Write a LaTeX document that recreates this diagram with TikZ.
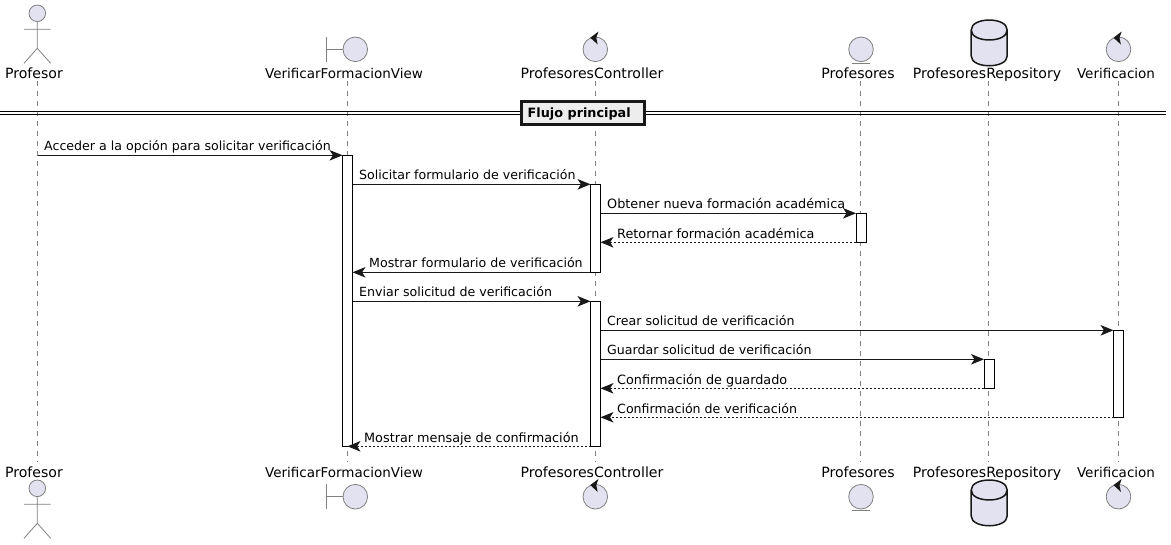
\documentclass[tikz,border=0pt]{standalone}
\usepackage{fontspec}
\setmainfont{DejaVu Sans}
\usetikzlibrary{arrows.meta,positioning,calc}
\definecolor{partfill}{HTML}{E2E2F0}
\definecolor{partline}{HTML}{181818}
\newcommand{\msgfont}{\fontsize{12.6}{15}\selectfont}
\newcommand{\msgwidefont}{\fontsize{12.8}{15}\selectfont}
\newcommand{\partfont}{\fontsize{14.1}{16}\selectfont}
\newcommand{\partsmall}{\fontsize{13.5}{16}\selectfont}
\newcommand{\ctrlarrow}[1]{\fill[partline] ($(#1)+(-5,-11.6)$) -- ($(#1)+(3.2,-17.8)$) -- ($(#1)+(1,-11.6)$) -- ($(#1)+(2.4,-4.8)$) -- cycle;}
\newcommand{\dbdraw}[2]{\draw[fill=partfill, draw=partline, line width=1.5pt] (#1-18,#2+10) -- (#1-18,#2+36) .. controls (#1-18,#2+49) and (#1+18,#2+49) .. (#1+18,#2+36) -- (#1+18,#2+10) .. controls (#1+18,#2-3.3) and (#1-18,#2-3.3) .. (#1-18,#2+10) .. controls (#1-18,#2+23.3) and (#1+18,#2+23.3) .. (#1+18,#2+10);}
\begin{document}
\begin{tikzpicture}[x=1pt,y=-1pt,>=Stealth,
     partname/.style={inner sep=0pt, anchor=base, text=black, font=\partfont},
     msgname/.style={inner sep=0pt, anchor=base west, text=black, font=\msgfont},
     msgwide/.style={msgname, font=\msgwidefont},
     icon/.style={draw=gray, fill=partfill, circle, inner sep=0pt, minimum size=24.6pt, line width=.8pt},
     lifeline/.style={draw=gray, line width=.8pt, dash pattern=on 5pt off 5pt},
     bar/.style={draw=black, fill=white, rectangle, inner sep=0pt, outer sep=0pt, minimum width=10pt, line width=.9pt},
     msg/.style={draw=partline, line width=.9pt, -{Stealth[length=13pt,width=10.5pt,inset=3.5pt]}},
     ret/.style={msg, dash pattern=on 2pt off 2pt}]
    \useasboundingbox (0,0) rectangle (1171,544);
    % participant names
    \node[partname] (tProfesor) at (34,78) {Profesor};
    \node[partname, font=\partsmall] (tVista) at (344,78) {VerificarFormacionView};
    \node[partname] (tCtrl) at (592,78) {ProfesoresController};
    \node[partname] (tEnt) at (858,78) {Profesores};
    \node[partname] (tRepo) at (987,78) {ProfesoresRepository};
    \node[partname, font=\partsmall] (tVerif) at (1116,78) {Verificacion};
    \node[partname] (bProfesor) at (34,477) {Profesor};
    \node[partname, font=\partsmall] (bVista) at (344,477) {VerificarFormacionView};
    \node[partname] (bCtrl) at (592,477) {ProfesoresController};
    \node[partname] (bEnt) at (858,477) {Profesores};
    \node[partname] (bRepo) at (987,477) {ProfesoresRepository};
    \node[partname, font=\partsmall] (bVerif) at (1116,477) {Verificacion};
    % lifelines
    \coordinate (lProfesor) at (37.5,81);   \coordinate (mProfesor) at (37.5,462);
    \coordinate (lVista) at (347.5,81);     \coordinate (mVista) at (347.5,462);
    \coordinate (lCtrl) at (595.5,81);      \coordinate (mCtrl) at (595.5,462);
    \coordinate (lEnt) at (860.5,81);       \coordinate (mEnt) at (860.5,462);
    \coordinate (lRepo) at (988.5,81);      \coordinate (mRepo) at (988.5,462);
    \coordinate (lVerif) at (1118.5,81);    \coordinate (mVerif) at (1118.5,462);
    \draw[lifeline] (lProfesor) -- (mProfesor);
    \draw[lifeline] (lVista) -- (mVista);
    \draw[lifeline] (lCtrl) -- (mCtrl);
    \draw[lifeline] (lEnt) -- (mEnt);
    \draw[lifeline] (lRepo) -- (mRepo);
    \draw[lifeline] (lVerif) -- (mVerif);
    % actor, top and bottom
    \foreach \yy in {0,475}{
      \draw[icon, minimum size=0pt] (37.3,13.3+\yy) circle (8.3);
      \draw[gray, line width=.8pt] (37.3,21.6+\yy) -- (37.3,48.3+\yy) (24,29.3+\yy) -- (50.7,29.3+\yy) (24,63.3+\yy) -- (37.3,48.3+\yy) -- (50.7,63.3+\yy);
    }
    % icons
    \node[icon] (iVistaT) at (355.3,49.3) {};
    \node[icon] (iVistaB) at (355.3,496.7) {};
    \coordinate (sVistaT) at (326.3,37); \coordinate (eVistaT) at (326.3,61.7); \coordinate (cVistaT) at (326.3,49.3);
    \coordinate (sVistaB) at (326.3,484.4); \coordinate (eVistaB) at (326.3,509.1); \coordinate (cVistaB) at (326.3,496.7);
    \draw[gray, line width=.8pt] (sVistaT) -- (eVistaT) (cVistaT) -- (iVistaT);
    \draw[gray, line width=.8pt] (sVistaB) -- (eVistaB) (cVistaB) -- (iVistaB);
    \node[icon] (iCtrlT) at (595.3,49.3) {};
    \node[icon] (iCtrlB) at (595.3,496.7) {};
    \ctrlarrow{iCtrlT.center}
    \ctrlarrow{iCtrlB.center}
    \node[icon] (iEntT) at (861,49.3) {};
    \node[icon] (iEntB) at (861,496.7) {};
    \draw[gray, line width=.8pt] (iEntT.south west |- 0,63) -- (iEntT.south east |- 0,63);
    \draw[gray, line width=.8pt] (iEntB.south west |- 0,510.4) -- (iEntB.south east |- 0,510.4);
    \dbdraw{989.2}{20}
    \dbdraw{989.2}{480}
    \node[icon] (iVerifT) at (1118.5,49.3) {};
    \node[icon] (iVerifB) at (1118.5,496.7) {};
    \ctrlarrow{iVerifT.center}
    \ctrlarrow{iVerifB.center}
    % divider
    \coordinate (dA) at (0,111.7); \coordinate (dB) at (1166,111.7);
    \coordinate (dC) at (0,114.4); \coordinate (dD) at (1166,114.4);
    \draw[black, line width=1pt] (dA) -- (dB) (dC) -- (dD);
    \node[draw=gray!70, line width=3.2pt, inner sep=0pt, minimum width=123pt, minimum height=23pt] (dividerhalo) at (583.2,113) {};
    \node[draw=partline, fill=black!7, line width=2.2pt, inner sep=0pt, minimum width=123pt, minimum height=23pt] (divider) at (583,113) {};
    \node[inner sep=0pt, anchor=base west, font=\fontsize{12.8}{15}\selectfont\bfseries] (tDivider) at (527.5,117.5) {Flujo principal};
    % activations
    \node[bar, minimum height=291pt] (aVista) at (347.5,300.8) {};
    \node[bar, minimum height=88pt] (aCtrlA) at (595.5,228.3) {};
    \node[bar, minimum height=145pt] (aCtrlB) at (595.5,373.8) {};
    \node[bar, minimum height=29pt] (aEnt) at (861,227.8) {};
    \node[bar, minimum height=29pt] (aRepo) at (989,373.8) {};
    \node[bar, minimum height=87pt] (aVerif) at (1118.5,373.8) {};
    % messages
    \draw[msg] (lProfesor |- aVista.north) -- (aVista.north west);
    \draw[msg] (aVista.east |- aCtrlA.north) -- (aCtrlA.north west);
    \draw[msg] (aCtrlA.east |- aEnt.north) -- (aEnt.north west);
    \draw[ret] (aEnt.south west) -- (aCtrlA.east |- aEnt.south);
    \draw[msg] (aCtrlA.south west) -- (aVista.east |- aCtrlA.south);
    \draw[msg] (aVista.east |- aCtrlB.north) -- (aCtrlB.north west);
    \draw[msg] (aCtrlB.east |- aVerif.north) -- (aVerif.north west);
    \draw[msg] (aCtrlB.east |- aRepo.north) -- (aRepo.north west);
    \draw[ret] (aRepo.south west) -- (aCtrlB.east |- aRepo.south);
    \draw[ret] (aVerif.south west) -- (aCtrlB.east |- aVerif.south);
    \draw[ret] (aCtrlB.south west) -- (aVista.south);
    % labels
    \node[msgname] (mAcceder) at (44,150) {Acceder a la opción para solicitar verificación};
    \node[msgname] (mSolicitar) at (359,179) {Solicitar formulario de verificación};
    \node[msgwide] (mObtener) at (607,208) {Obtener nueva formación académica};
    \node[msgwide] (mRetornar) at (617,238) {Retornar formación académica};
    \node[msgname] (mMostrarF) at (369,267) {Mostrar formulario de verificación};
    \node[msgname] (mEnviar) at (359,296) {Enviar solicitud de verificación};
    \node[msgname] (mCrear) at (607,325) {Crear solicitud de verificación};
    \node[msgname] (mGuardar) at (607,354) {Guardar solicitud de verificación};
    \node[msgwide] (mConfG) at (617,384) {Confirmación de guardado};
    \node[msgname] (mConfV) at (617,413) {Confirmación de verificación};
    \node[msgwide] (mMostrarM) at (364,442) {Mostrar mensaje de confirmación};
\end{tikzpicture}
\end{document}
